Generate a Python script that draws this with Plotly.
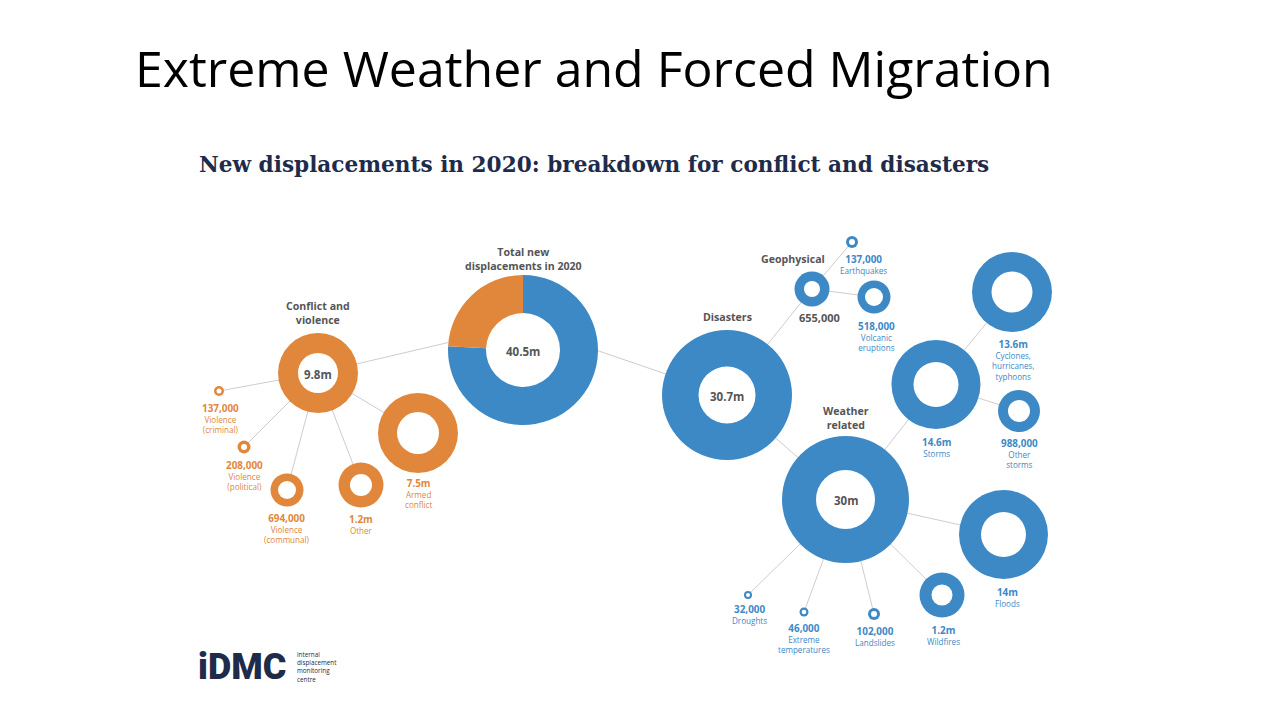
import plotly.graph_objects as go

# ---------------- data ----------------
node_names = ["Total new displacements in 2020", "Conflict and violence", "Violence (criminal)",
              "Violence (political)", "Violence (communal)", "Other", "Armed conflict",
              "Disasters", "Geophysical", "Earthquakes", "Volcanic eruptions", "Weather related",
              "Storms", "Cyclones, hurricanes, typhoons", "Other storms", "Floods", "Wildfires",
              "Landslides", "Extreme temperatures", "Droughts"]
value_labels = ["40.5m", "9.8m", "137,000", "208,000", "694,000", "1.2m", "7.5m",
                "30.7m", "655,000", "137,000", "518,000", "30m",
                "14.6m", "13.6m", "988,000", "14m", "1.2m", "102,000", "46,000", "32,000"]
parents = [None, 0, 1, 1, 1, 1, 1, 0, 7, 8, 8, 7, 11, 12, 12, 11, 11, 11, 11, 11]
group = ["total", "conflict", "conflict", "conflict", "conflict", "conflict", "conflict",
         "disaster", "disaster", "disaster", "disaster", "disaster", "disaster", "disaster",
         "disaster", "disaster", "disaster", "disaster", "disaster", "disaster"]
# hub titles (shown above the ring) and child descriptions (shown below the value)
hub_titles = {0: ["Total new", "displacements in 2020"], 1: ["Conflict and", "violence"],
              7: ["Disasters"], 11: ["Weather", "related"], 8: ["Geophysical"]}
child_desc = {2: ["Violence", "(criminal)"], 3: ["Violence", "(political)"],
              4: ["Violence", "(communal)"], 5: ["Other"], 6: ["Armed", "conflict"],
              8: [],
              9: ["Earthquakes"], 10: ["Volcanic", "eruptions"], 12: ["Storms"],
              13: ["Cyclones,", "hurricanes,", "typhoons"], 14: ["Other", "storms"],
              15: ["Floods"], 16: ["Wildfires"], 17: ["Landslides"],
              18: ["Extreme", "temperatures"], 19: ["Droughts"]}
# main donut split: disasters first (clockwise from 12 o'clock), conflict closes the circle
total_split_labels = ["Disasters", "Conflict and violence"]
total_split_values = [30.7, 9.8]

# ---------------- layout (pixel positions) ----------------
node_x = [523, 318, 219, 244, 287, 361, 418, 727, 812, 852, 874, 845.5, 936, 1012, 1019,
          1003.5, 942, 874, 804, 748]
node_y = [350, 373, 391, 447, 490, 485, 433, 395, 289, 242, 297, 499.5, 384.5, 292, 411,
          534.5, 595, 614, 612, 595]
r_out = [75, 40, 5, 6.5, 16.5, 22.5, 40, 65, 17.5, 6, 16.5, 63.5, 44.5, 40, 21, 44.5,
         22.5, 6, 4.5, 4]
r_in = [37, 20, 2.5, 3, 9, 11, 21, 28.5, 8, 3, 9, 29.5, 22.5, 20.5, 11, 22.5, 10.5, 3,
        2.3, 2]
# anchor used by connector lines (main donut links converge slightly above its centre)
anchor_x = list(node_x)
anchor_y = list(node_y)
anchor_y[0] = 325
# value label positions for children (y = centre of the value line)
val_x = {2: 220, 3: 244, 4: 287, 5: 361, 6: 418, 8: 819, 9: 863, 10: 876, 12: 936,
         13: 1013, 14: 1019, 15: 1007, 16: 943, 17: 875, 18: 804, 19: 749}
val_y = {2: 408, 3: 465, 4: 518, 5: 519, 6: 483, 8: 318, 9: 259, 10: 326, 12: 442,
         13: 344, 14: 443, 15: 592, 16: 630, 17: 631, 18: 628, 19: 609}
title_x = {0: 523, 1: 318, 7: 727, 11: 846, 8: 793}
title_y = {0: 253, 1: 307, 7: 317, 11: 412, 8: 259}

ORANGE = "#E1873B"
BLUE = "#3D89C6"
GREY = "#555557"
LINEC = "#CDCDCD"
NAVY = "#1E2B4A"
FONT = "Open Sans"
col = {"conflict": ORANGE, "disaster": BLUE, "total": BLUE}

fig = go.Figure()

# connector lines
lx, ly = [], []
for i, p in enumerate(parents):
    if p is None:
        continue
    lx += [anchor_x[p], anchor_x[i], None]
    ly += [anchor_y[p], anchor_y[i], None]
fig.add_trace(go.Scatter(x=lx, y=ly, mode="lines", line=dict(color=LINEC, width=1),
                         hoverinfo="skip", showlegend=False))

# rings: coloured disc + white hole
idx = [i for i in range(len(node_names)) if i != 0]
fig.add_trace(go.Scatter(x=[node_x[i] for i in idx], y=[node_y[i] for i in idx], mode="markers",
                         marker=dict(size=[2 * r_out[i] for i in idx], opacity=1,
                                     color=[col[group[i]] for i in idx], line=dict(width=0)),
                         text=[node_names[i] for i in idx], hoverinfo="text", showlegend=False))
fig.add_trace(go.Scatter(x=node_x, y=node_y, mode="markers",
                         marker=dict(size=[2 * r for r in r_in], color="white", opacity=1,
                                     line=dict(width=0)),
                         hoverinfo="skip", showlegend=False))

# main donut
W, H = 1280, 720
fig.add_trace(go.Pie(labels=total_split_labels, values=total_split_values, sort=False,
                     direction="clockwise", rotation=0, hole=r_in[0] / r_out[0],
                     marker=dict(colors=[BLUE, ORANGE], line=dict(width=0)),
                     textinfo="none", showlegend=False,
                     domain=dict(x=[(node_x[0] - r_out[0]) / W, (node_x[0] + r_out[0]) / W],
                                 y=[1 - (node_y[0] + r_out[0]) / H, 1 - (node_y[0] - r_out[0]) / H])))

ann = []


def add_text(x, y, text, size, color, bold=False, xanchor="center", family=FONT,
             yanchor="middle", align="center", weight=None):
    f = dict(size=size, color=color, family=family)
    if weight:
        f["weight"] = weight
    ann.append(dict(x=x, y=y, xref="x", yref="y", text=f"<b>{text}</b>" if bold else text,
                    showarrow=False, xanchor=xanchor, yanchor=yanchor, borderpad=0,
                    align=align, font=f))


# centre values for hub rings
for i in [0, 1, 7, 11]:
    add_text(node_x[i], node_y[i] + 1, value_labels[i], 11.5, GREY, True)
# hub titles (multi-line, one annotation each)
TSZ = 10.6
for i, lines in hub_titles.items():
    n = len(lines)
    add_text(title_x[i], title_y[i] + (n - 1) * 5.5, "<br>".join(lines), TSZ, GREY, True)
# child values and descriptions (one annotation each)
DSZ = 8.1
for i, vy in val_y.items():
    c = GREY if i == 8 else col[group[i]]
    vsz = 11 if i == 8 else 9.9
    lines = [f"<b><span style='font-size:{vsz}px'>{value_labels[i]}</span></b>"] + child_desc[i]
    top = vy - vsz * 0.62 - 2
    ann.append(dict(x=val_x[i], y=top, xref="x", yref="y", text="<br>".join(lines),
                    showarrow=False, xanchor="center", yanchor="top", borderpad=0,
                    font=dict(size=DSZ, color=c, family=FONT)))

# page title and subtitle
add_text(134, 68, "Extreme Weather and Forced Migration", 50, "black", False, "left")
add_text(198, 164, "New displacements in 2020: breakdown for conflict and disasters", 21.6,
         NAVY, True, "left", "DejaVu Serif")
# IDMC logo
add_text(197, 667, "iDMC", 36, NAVY, False, "left", "Roboto", weight=900)
add_text(296, 667, "internal<br>displacement<br>monitoring<br>centre", 6.3, NAVY, False, "left",
         align="left")

fig.update_layout(
    width=W, height=H, margin=dict(l=0, r=0, t=0, b=0),
    paper_bgcolor="white", plot_bgcolor="white",
    xaxis=dict(range=[0, W], visible=False, fixedrange=True),
    yaxis=dict(range=[H, 0], visible=False, fixedrange=True),
    annotations=ann, showlegend=False,
)
fig.write_html("out.html")
